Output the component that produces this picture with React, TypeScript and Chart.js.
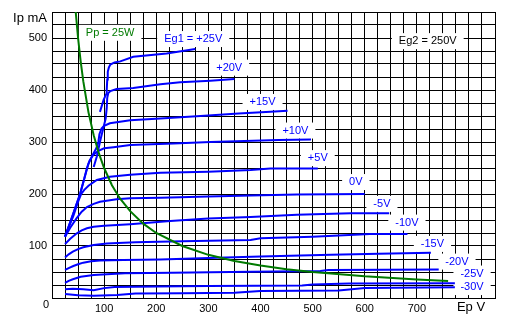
import React, { useEffect, useRef } from 'react';
import { Chart, registerables } from 'chart.js';

Chart.register(...registerables);

// Plate characteristic curves: [Ep (V), Ip (mA)]
const g1Plus25: [number, number][] = [[92, 358], [99, 381], [104, 392], [105, 400], [106, 420], [107, 435], [109, 443], [112, 449], [120, 453], [131, 455], [156, 464], [220, 470], [275, 479]];
const g1Plus20: [number, number][] = [[80, 252], [86, 272], [92, 300], [98, 325], [103, 345], [105, 365], [106, 385], [108, 394], [112, 398], [124, 402], [156, 404], [208, 411], [246, 415], [304, 418], [350, 421]];
const g1Plus15: [number, number][] = [[25, 118], [33, 140], [41, 163], [54, 200], [62, 230], [70, 258], [78, 275], [85, 288], [89, 300], [91, 315], [95, 326], [100, 331], [111, 336], [150, 342], [208, 345], [285, 350], [358, 355], [419, 358], [452, 360]];
const g1Plus10: [number, number][] = [[25, 118], [33, 140], [41, 163], [54, 201], [62, 230], [67, 250], [72, 264], [79, 275], [89, 283], [100, 288], [118, 290], [150, 294], [233, 297], [304, 300], [435, 304], [497, 305]];
const g1Plus5: [number, number][] = [[25, 118], [33, 138], [41, 158], [50, 185], [56, 200], [62, 208], [70, 216], [86, 227], [111, 233], [150, 237], [208, 241], [300, 243], [381, 246], [419, 249], [510, 249]];
const g1Zero: [number, number][] = [[25, 118], [35, 135], [47, 153], [57, 166], [67, 175], [80, 181], [92, 185], [124, 190], [150, 192], [208, 193], [300, 195], [381, 197], [470, 199], [600, 200]];
const g1Minus5: [number, number][] = [[25, 104], [35, 114], [47, 124], [57, 130], [67, 134], [80, 137], [100, 139], [150, 142], [227, 148], [300, 153], [381, 156], [470, 160], [573, 163], [647, 163]];
const g1Minus10: [number, number][] = [[25, 78], [32, 84], [40, 89], [50, 94], [60, 97.5], [80, 102], [105, 105], [160, 107], [250, 109], [381, 111.5], [400, 114.7], [500, 118], [610, 123], [682, 123]];
const g1Minus15: [number, number][] = [[25, 54], [33, 58], [41, 61.5], [50, 65], [60, 68], [75, 70.5], [92, 72], [137, 73], [208, 74], [300, 77], [400, 80], [535, 83], [627, 85], [727, 87]];
const g1Minus20: [number, number][] = [[25, 29], [32, 33], [40, 36], [55, 41], [80, 44], [140, 47.5], [230, 48.7], [380, 50.6], [515, 52], [530, 54], [742, 55]];
const g1Minus25: [number, number][] = [[25, 16.7], [40, 18], [60, 17], [80, 15], [100, 19], [120, 21], [200, 22], [300, 23], [480, 24], [500, 26], [570, 28], [773, 28.5]];
const g1Minus30: [number, number][] = [[25, 7.7], [50, 5.5], [80, 4.5], [125, 6], [160, 8.5], [250, 9], [350, 10], [400, 13.5], [550, 14.5], [600, 19], [773, 20.6]];

// Plate dissipation limit Pp = 25 W
const ppLimit: [number, number][] = [[45.5, 550], [50, 500], [55, 455], [60, 417], [70, 357], [80, 313], [90, 278], [100, 250], [115, 217], [130, 192], [150, 167], [175, 143], [200, 125], [250, 100], [300, 83], [350, 71], [400, 62.5], [450, 55.5], [500, 50], [600, 41.7], [700, 35.7], [760, 32.9]];

const curves = [g1Plus25, g1Plus20, g1Plus15, g1Plus10, g1Plus5, g1Zero, g1Minus5, g1Minus10, g1Minus15, g1Minus20, g1Minus25, g1Minus30];
const curveLabels = ['Eg1 = +25V', '+20V', '+15V', '+10V', '+5V', '0V', '-5V', '-10V', '-15V', '-20V', '-25V', '-30V'];
// label anchors in data units [Ep, Ip]
const curveLabelAt: [number, number][] = [[271, 498], [340, 443], [404, 377], [467, 322], [510, 269], [583, 223], [633, 181], [681, 145], [730, 104], [777, 70], [806, 47], [806, 21]];
const ppLabel = 'Pp = 25W';
const ppLabelAt: [number, number] = [111.5, 510];
const eg2Label = 'Eg2 = 250V';
const eg2LabelAt: [number, number] = [721, 494];

const xTickLabels = [100, 200, 300, 400, 500, 600, 700];
const yTickLabels = [100, 200, 300, 400, 500];

const BLUE = '#0000ff';
const GREEN = '#007a00';
const FONT = '"Liberation Sans", Arial, sans-serif';

const labelPlugin = {
  id: 'tubeLabels',
  beforeDatasetsDraw(chart: any) {
    const { ctx, scales } = chart;
    const x = scales.x, y = scales.y;
    const items: { t: string; at: [number, number]; c: string }[] = [];
    curveLabels.forEach((t, i) => items.push({ t, at: curveLabelAt[i], c: BLUE }));
    items.push({ t: ppLabel, at: ppLabelAt, c: GREEN });
    items.push({ t: eg2Label, at: eg2LabelAt, c: '#000' });
    ctx.save();
    ctx.font = `11px ${FONT}`;
    ctx.textAlign = 'center';
    ctx.textBaseline = 'middle';
    items.forEach(({ t, at, c }) => {
      const px = x.getPixelForValue(at[0]);
      const py = y.getPixelForValue(at[1]);
      const w = ctx.measureText(t).width;
      ctx.fillStyle = '#fff';
      ctx.fillRect(px - w / 2 - 7, py - 8, w + 14, 16);
      ctx.fillStyle = c;
      ctx.fillText(t, px, py);
    });
    ctx.restore();
  },
  afterDraw(chart: any) {
    const { ctx, chartArea } = chart;
    ctx.save();
    ctx.fillStyle = '#000';
    ctx.textBaseline = 'middle';
    ctx.font = `13px ${FONT}`;
    ctx.textAlign = 'right';
    ctx.fillText('Ip mA', chartArea.left - 5, chartArea.top + 6.5);
    ctx.textAlign = 'center';
    ctx.fillText('Ep V', chartArea.right - 24, chartArea.bottom + 9.5);
    ctx.font = `11px ${FONT}`;
    ctx.fillText('0', chartArea.left - 6, chartArea.bottom + 7);
    ctx.restore();
  },
};

export default function App() {
  const ref = useRef<HTMLCanvasElement | null>(null);
  useEffect(() => {
    if (!ref.current) return;
    const datasets: any[] = [
      {
        data: ppLimit.map(([x, y]) => ({ x, y })),
        borderColor: GREEN,
        borderWidth: 2,
        pointRadius: 0,
        tension: 0,
        fill: false,
      },
      ...curves.map((c) => ({
        data: c.map(([x, y]) => ({ x, y })),
        borderColor: BLUE,
        borderWidth: 2,
        pointRadius: 0,
        tension: 0,
        fill: false,
      })),
    ];
    const chart = new Chart(ref.current, {
      type: 'line',
      data: { datasets },
      options: {
        animation: false,
        responsive: false,
        devicePixelRatio: 1,
        layout: { padding: { left: 0, right: 13, top: 12, bottom: 0 } },
        plugins: { legend: { display: false }, tooltip: { enabled: false } },
        scales: {
          x: {
            type: 'linear',
            min: 0,
            max: 850,
            afterFit: (s: any) => { s.height = 26; },
            grid: { color: '#000', lineWidth: 1, drawTicks: false },
            border: { display: true, color: '#000', width: 1 },
            ticks: {
              stepSize: 25,
              autoSkip: false,
              maxRotation: 0,
              padding: 4,
              color: '#000',
              font: { family: FONT, size: 11 },
              callback: (v: any) => (xTickLabels.includes(Number(v)) ? String(v) : ''),
            },
          },
          y: {
            type: 'linear',
            min: 0,
            max: 550,
            afterFit: (s: any) => { s.width = 52; },
            grid: { color: '#000', lineWidth: 1, drawTicks: false },
            border: { display: true, color: '#000', width: 1 },
            ticks: {
              stepSize: 25,
              autoSkip: false,
              padding: 5,
              color: '#000',
              font: { family: FONT, size: 11 },
              callback: (v: any) => (yTickLabels.includes(Number(v)) ? String(v) : ''),
            },
          },
        },
      },
      plugins: [labelPlugin],
    });
    return () => chart.destroy();
  }, []);
  return (
    <div style={{ position: 'fixed', left: 0, top: 0, width: 508, height: 324, background: '#fff' }}>
      <canvas ref={ref} width={508} height={324} style={{ display: 'block' }} />
    </div>
  );
}
